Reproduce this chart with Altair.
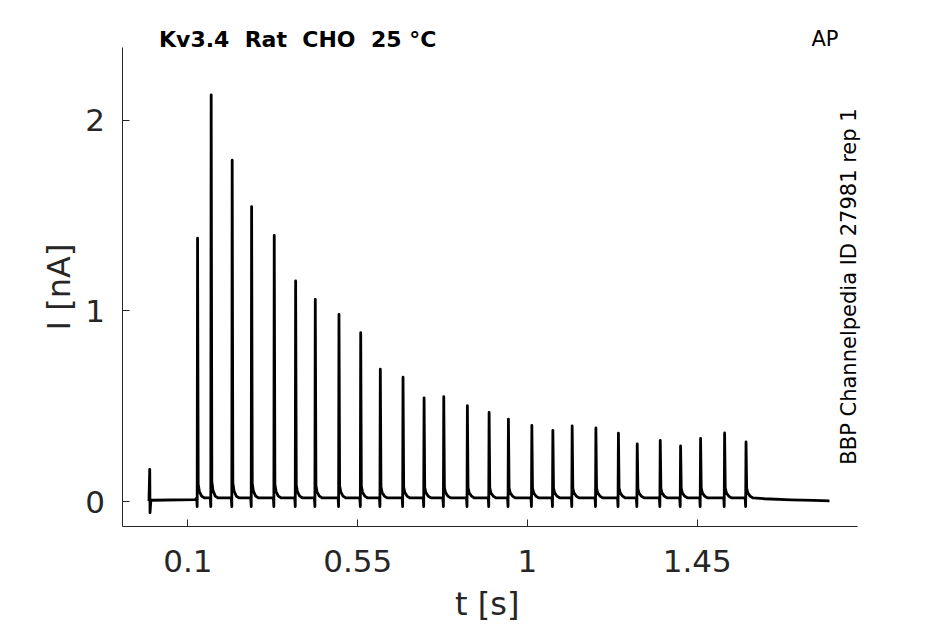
import altair as alt
import pandas as pd

# ---- data ----
SPIKE_T = [0.1265, 0.1626, 0.2183, 0.2698, 0.3298, 0.3865, 0.4386, 0.5014, 0.5590, 0.6110,
           0.6712, 0.7270, 0.7792, 0.8418, 0.8994, 0.9506, 1.0127, 1.0684, 1.1196, 1.1825,
           1.2422, 1.2921, 1.3531, 1.4070, 1.4600, 1.5237, 1.5805]
SPIKE_PEAK = [1.378, 2.130, 1.787, 1.544, 1.393, 1.154, 1.058, 0.979, 0.883, 0.691,
              0.649, 0.541, 0.547, 0.500, 0.465, 0.430, 0.397, 0.371, 0.394, 0.383,
              0.356, 0.299, 0.318, 0.289, 0.329, 0.357, 0.310]
# current waveform around each spike: time offset [s], fixed offset [nA], fraction of peak
SHAPE_DT = [-0.0020, -0.0007, 0.0003, 0.0020, 0.0050, 0.0110, 0.0190]
SHAPE_ADD = [0.000, -0.045, 0.000, 0.045, 0.024, 0.010, 0.000]
SHAPE_FRAC = [0.0, 0.0, 1.0, 0.02, 0.008, 0.0, 0.0]
BASE = 0.016

START_T = [-0.0020, 0.0000, 0.0008, 0.0030, 0.1200]
START_I = [0.000, 0.166, -0.061, 0.004, 0.007]
END_T = [1.6300, 1.7000, 1.7600, 1.8020]
END_I = [0.012, 0.006, 0.003, 0.001]

X_TICKS = [0.1, 0.55, 1, 1.45]
Y_TICKS = [0, 1, 2]
X_DOMAIN = [-0.0735, 1.875]
Y_DOMAIN = [-0.131, 2.381]

TITLE = "Kv3.4\u00a0\u00a0Rat\u00a0\u00a0CHO\u00a0\u00a025\u00a0°C"
CORNER = "AP"
SIDE = "BBP Channelpedia ID 27981 rep 1"

# ---- build trace table ----
ts, vals = list(START_T), list(START_I)
for T, P in zip(SPIKE_T, SPIKE_PEAK):
    for dt, add, fr in zip(SHAPE_DT, SHAPE_ADD, SHAPE_FRAC):
        ts.append(T + dt)
        vals.append(BASE + fr * (P - BASE) + add)
ts += END_T
vals += END_I
df = pd.DataFrame({"t": ts, "I": vals, "idx": range(len(ts))})

FONT = "DejaVu Sans"
GREY = "#262626"

x_axis = alt.Axis(
    values=X_TICKS, labelExpr="'' + datum.value", title="t [s]", grid=False,
    domainColor=GREY, domainWidth=1, tickColor=GREY, tickWidth=1,
    tickSize={"expr": "-7"},
    labelFont=FONT, labelFontSize=31, labelColor=GREY,
    labelBaseline="alphabetic", labelPadding=52.7, labelFlush=False, labelOverlap=False,
    titleFont=FONT, titleFontSize=32, titleFontWeight="normal", titleColor=GREY,
    titleX=364.7, titleY=88.5, titleAlign="center", titleBaseline="alphabetic", titleAngle=0,
)
y_axis = alt.Axis(
    values=Y_TICKS, labelExpr="'' + datum.value", title="I [nA]", grid=False,
    domainColor=GREY, domainWidth=1, tickColor=GREY, tickWidth=1,
    tickSize={"expr": "-7"},
    labelFont=FONT, labelFontSize=31, labelColor=GREY,
    labelAlign="right", labelBaseline="middle", labelPadding=24.5, labelOffset=2,
    labelFlush=False, labelOverlap=False,
    titleFont=FONT, titleFontSize=32, titleFontWeight="normal", titleColor=GREY,
    titleX=-52.3, titleY=239.5, titleAlign="center", titleBaseline="alphabetic", titleAngle=270,
)

line = alt.Chart(df).mark_line(color="black", strokeWidth=2.8, strokeJoin="round").encode(
    x=alt.X("t:Q", scale=alt.Scale(domain=X_DOMAIN, nice=False, zero=False), axis=x_axis),
    y=alt.Y("I:Q", scale=alt.Scale(domain=Y_DOMAIN, nice=False, zero=False), axis=y_axis),
    order="idx:Q",
)

title = alt.Chart(pd.DataFrame({"label": [TITLE]})).mark_text(
    align="left", baseline="alphabetic", font=FONT, fontSize=22, fontWeight="bold", color="black"
).encode(text="label:N", x=alt.value(37), y=alt.value(-0.5))

corner = alt.Chart(pd.DataFrame({"label": [CORNER]})).mark_text(
    align="left", baseline="alphabetic", font=FONT, fontSize=21, color="black"
).encode(text="label:N", x=alt.value(689.4), y=alt.value(-1))

side = alt.Chart(pd.DataFrame({"label": [SIDE]})).mark_text(
    align="center", baseline="alphabetic", font=FONT, fontSize=21, color="black", angle=270
).encode(text="label:N", x=alt.value(733.7), y=alt.value(239.5))

chart = alt.layer(line, title, corner, side).properties(
    width=735, height=479,
    autosize=alt.AutoSizeParams(type="none"),
    padding={"left": 114, "top": 39, "right": 80, "bottom": 98},
    background="white",
).configure_view(stroke=None)

chart.save("out.html", embed_options={"renderer": "svg", "actions": False})
